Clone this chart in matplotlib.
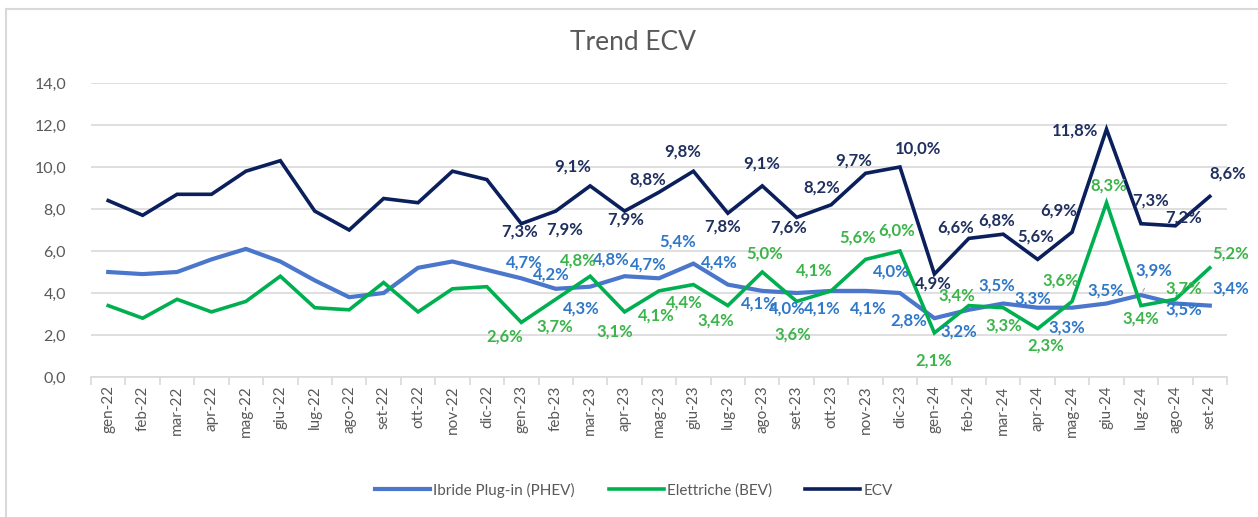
import matplotlib
matplotlib.use("Agg")
import matplotlib.pyplot as plt
from matplotlib.lines import Line2D

# dati
mesi = ["gen-22", "feb-22", "mar-22", "apr-22", "mag-22", "giu-22", "lug-22", "ago-22",
        "set-22", "ott-22", "nov-22", "dic-22", "gen-23", "feb-23", "mar-23", "apr-23",
        "mag-23", "giu-23", "lug-23", "ago-23", "set-23", "ott-23", "nov-23", "dic-23",
        "gen-24", "feb-24", "mar-24", "apr-24", "mag-24", "giu-24", "lug-24", "ago-24",
        "set-24"]
phev = [5.0, 4.9, 5.0, 5.6, 6.1, 5.5, 4.6, 3.8, 4.0, 5.2, 5.5, 5.1,
        4.7, 4.2, 4.3, 4.8, 4.7, 5.4, 4.4, 4.1, 4.0, 4.1, 4.1, 4.0,
        2.8, 3.2, 3.5, 3.3, 3.3, 3.5, 3.9, 3.5, 3.4]
bev = [3.4, 2.8, 3.7, 3.1, 3.6, 4.8, 3.3, 3.2, 4.5, 3.1, 4.2, 4.3,
       2.6, 3.7, 4.8, 3.1, 4.1, 4.4, 3.4, 5.0, 3.6, 4.1, 5.6, 6.0,
       2.1, 3.4, 3.3, 2.3, 3.6, 8.3, 3.4, 3.7, 5.2]
ecv = [8.4, 7.7, 8.7, 8.7, 9.8, 10.3, 7.9, 7.0, 8.5, 8.3, 9.8, 9.4,
       7.3, 7.9, 9.1, 7.9, 8.8, 9.8, 7.8, 9.1, 7.6, 8.2, 9.7, 10.0,
       4.9, 6.6, 6.8, 5.6, 6.9, 11.8, 7.3, 7.2, 8.6]
primo_etichetta = 12  # etichette da gen-23 in poi

# spostamento etichette (pixel, x destra / y giu)
off_ecv = [(-2, 8), (9, 18), (-17, -19), (1, 8), (-11, -13), (-11, -20), (-5, 13),
           (-1, -22), (-8, 10), (-9, -17), (-12, -13), (18, -18), (-1, 9), (-13, -11),
           (-7, -14), (-2, -23), (-13, -22), (-31, 1), (10, -23), (8, -8), (18, -23)]
off_phev = [(3, -16), (-4, -14), (-9, 22), (-13, -17), (-11, -14), (-16, -22), (-9, -22),
            (-3, 13), (-9, 16), (-9, 18), (3, 18), (-9, -21), (-26, 2), (-10, 22),
            (-6, -18), (-5, -9), (-5, 20), (-1, -13), (13, -25), (8, 6), (21, -17)]
off_bev = [(-17, 14), (-1, 27), (-12, -16), (-10, 20), (-3, 25), (-9, 18), (-12, 15),
           (2, -18), (-4, 33), (-17, -20), (-8, -22), (-3, -20), (-1, 28), (-12, -10),
           (1, 18), (8, 17), (-11, -21), (2, -17), (0, 13), (8, -11), (21, -14)]

plt.rcParams['font.family'] = ['Lato', 'DejaVu Sans']

fig = plt.figure(figsize=(12.58, 5.17), dpi=100)
ax = fig.add_axes([91 / 1258, 1 - 377 / 517, (1227 - 91) / 1258, (377 - 83) / 517])

x = list(range(len(mesi)))
serie = [
    ("Ibride Plug-in (PHEV)", phev, "#4A76CC", "#2F78C8", off_phev, 3.0),
    ("Elettriche (BEV)", bev, "#00B050", "#3BB44A", off_bev, 2.6),
    ("ECV", ecv, "#0A1F5C", "#1F2F5E", off_ecv, 2.6),
]
for nome, val, col, col_lab, offs, lw in serie:
    ax.plot(x, val, color=col, lw=lw, label=nome, solid_joinstyle='miter', zorder=3)

for nome, val, col, col_lab, offs, lw in serie:
    for k, (dx, dy) in enumerate(offs):
        i = primo_etichetta + k
        testo = f"{val[i]:.1f}%".replace(".", ",")
        extra = {}
        if nome.startswith("Ibride") and mesi[i] == "lug-24":
            extra = dict(arrowprops=dict(arrowstyle='-', color='#A6A6A6', lw=0.8,
                                         shrinkA=6, shrinkB=3))
        ax.annotate(testo, (i, val[i]), xytext=(dx, -dy), textcoords='offset pixels',
                    ha='center', va='center', fontsize=12, fontweight='bold',
                    color=col_lab, zorder=5, **extra)

ax.set_xlim(-0.5, len(mesi) - 0.5)
ax.set_ylim(0, 14)
ax.set_yticks(range(0, 15, 2))
ax.set_yticklabels([f"{v:.1f}".replace(".", ",") for v in range(0, 15, 2)])
ax.set_xticks(x)
ax.set_xticklabels(mesi, rotation=90)
ax.set_xticks([i - 0.5 for i in range(len(mesi) + 1)], minor=True)
ax.tick_params(axis='x', which='major', length=0, pad=6, labelsize=11, labelcolor='#595959')
ax.tick_params(axis='x', which='minor', length=6, color='#D9D9D9', width=1.2)
ax.tick_params(axis='y', length=0, pad=18, labelsize=11.5, labelcolor='#595959')
ax.grid(axis='y', color='#D9D9D9', lw=1.2)
ax.set_axisbelow(True)
for s in ['top', 'right', 'left']:
    ax.spines[s].set_visible(False)
ax.spines['bottom'].set_color('#D9D9D9')
ax.spines['bottom'].set_linewidth(1.2)

fig.text(633 / 1258, 1 - 43 / 517, "Trend ECV", ha='center', va='center',
         fontsize=19, color='#595959')

fig.legend(loc='center', bbox_to_anchor=(634 / 1258, 1 - 490 / 517), ncol=3,
           frameon=False, fontsize=11, handlelength=3.6, columnspacing=2.2,
           handletextpad=0.2, labelcolor='#595959')

# bordo esterno del grafico
fig.add_artist(Line2D([6 / 1258, 6 / 1258], [0, 1 - 9 / 517], transform=fig.transFigure,
                      color='#D9D9D9', lw=1.5))
fig.add_artist(Line2D([6 / 1258, 1], [1 - 9 / 517, 1 - 9 / 517], transform=fig.transFigure,
                      color='#D9D9D9', lw=1.5))

fig.savefig("out.png", dpi=100)
